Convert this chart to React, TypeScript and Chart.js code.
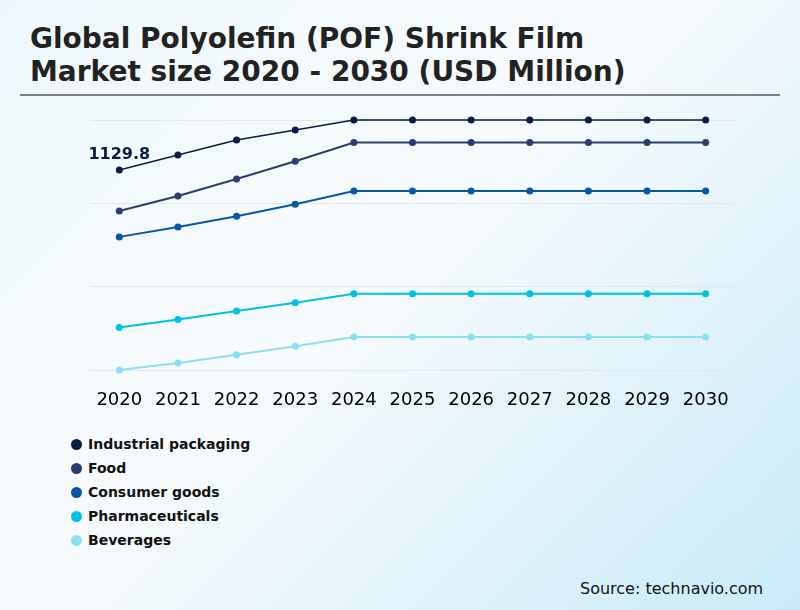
import React, { useEffect, useRef } from "react";
import { Chart, registerables } from "chart.js";

Chart.register(...registerables);

const years = ["2020", "2021", "2022", "2023", "2024", "2025", "2026", "2027", "2028", "2029", "2030"];
const seriesNames = ["Industrial packaging", "Food", "Consumer goods", "Pharmaceuticals", "Beverages"];
const seriesColors = ["#0b1d45", "#2b3d73", "#0757a6", "#00c2e0", "#8ae0f2"];
const industrialPackaging = [1129.8, 1166, 1202, 1226, 1250, 1250, 1250, 1250, 1250, 1250, 1250];
const food = [1031.6, 1067.6, 1108.4, 1151, 1196, 1196, 1196, 1196, 1196, 1196, 1196];
const consumerGoods = [969.5, 993, 1019, 1048, 1079.6, 1079.6, 1079.6, 1079.6, 1079.6, 1079.6, 1079.6];
const pharmaceuticals = [752, 771, 791.6, 811.5, 833, 833, 833, 833, 833, 833, 833];
const beverages = [650, 667, 686.5, 707, 729, 729, 729, 729, 729, 729, 729];
const seriesValues = [industrialPackaging, food, consumerGoods, pharmaceuticals, beverages];
const yMin = 650;
const yMax = 1250;
const yStep = 200;
const labelText = "1129.8";

const FONT = "'DejaVu Sans', sans-serif";

const labelPlugin = {
  id: "firstLabel",
  afterDatasetsDraw(chart: any) {
    const meta = chart.getDatasetMeta(0);
    const pt = meta.data[0];
    if (!pt) return;
    const ctx = chart.ctx;
    ctx.save();
    ctx.font = `bold 16px ${FONT}`;
    ctx.fillStyle = seriesColors[0];
    ctx.textAlign = "center";
    ctx.textBaseline = "middle";
    ctx.fillText(labelText, pt.x, pt.y - 15);
    ctx.restore();
  },
};

export default function App() {
  const ref = useRef<HTMLCanvasElement | null>(null);
  useEffect(() => {
    if (!ref.current) return;
    const chart = new Chart(ref.current, {
      type: "line",
      data: {
        labels: years,
        datasets: seriesNames.map((name, i) => ({
          label: name,
          data: seriesValues[i],
          borderColor: seriesColors[i],
          backgroundColor: seriesColors[i],
          borderWidth: i === 0 ? 1.5 : 2,
          pointRadius: 3.5,
          pointHoverRadius: 3.5,
          pointBorderWidth: 0,
          tension: 0,
          clip: false as any,
        })),
      },
      options: {
        animation: false,
        responsive: false,
        maintainAspectRatio: false,
        layout: { padding: { left: 90, right: 65, top: 120, bottom: 10 } },
        plugins: {
          legend: { display: false },
          tooltip: { enabled: false },
        },
        scales: {
          x: {
            offset: true,
            grid: { display: false },
            border: { display: false },
            ticks: {
              color: "#000",
              font: { family: FONT, size: 18 },
              padding: 12,
              maxRotation: 0,
              autoSkip: false,
            },
            afterFit(scale: any) {
              scale.height = 40;
            },
          },
          y: {
            min: yMin,
            max: yMax,
            ticks: { display: false, stepSize: yStep },
            grid: { color: "#e4e6e9", lineWidth: 1, drawTicks: false, tickLength: 0 },
            border: { display: false },
            afterFit(scale: any) {
              scale.width = 0;
            },
          },
        },
      },
      plugins: [labelPlugin],
    });
    return () => chart.destroy();
  }, []);

  return (
    <div
      style={{
        position: "absolute",
        left: 0,
        top: 0,
        width: 800,
        height: 610,
        overflow: "hidden",
        background: "linear-gradient(135deg, #eef8fc 0%, #f8fbfd 45%, #c8ebf8 100%)",
        fontFamily: FONT,
      }}
    >
      <div
        style={{
          position: "absolute",
          left: 30,
          top: 22,
          fontSize: 28,
          fontWeight: "bold",
          lineHeight: "33px",
          color: "#222",
          whiteSpace: "nowrap",
        }}
      >
        Global Polyolefin (POF) Shrink Film
        <br />
        Market size 2020 - 2030 (USD Million)
      </div>
      <div
        style={{
          position: "absolute",
          left: 20,
          top: 94,
          width: 760,
          height: 2,
          background: "#7f7f7f",
        }}
      />
      <canvas ref={ref} width={800} height={420} style={{ position: "absolute", left: 0, top: 0, width: 800, height: 420 }} />
      {seriesNames.map((name, i) => (
        <div
          key={name}
          style={{
            position: "absolute",
            left: 71,
            top: 444 + i * 24 - 10,
            height: 20,
            display: "flex",
            alignItems: "center",
            fontSize: 14,
            fontWeight: "bold",
            color: "#111",
            whiteSpace: "nowrap",
          }}
        >
          <span
            style={{
              display: "inline-block",
              width: 11,
              height: 11,
              borderRadius: "50%",
              background: seriesColors[i],
              marginRight: 6,
            }}
          />
          {name}
        </div>
      ))}
      <div
        style={{
          position: "absolute",
          left: 580,
          top: 579,
          fontSize: 16,
          lineHeight: "20px",
          color: "#111",
          whiteSpace: "nowrap",
        }}
      >
        Source: technavio.com
      </div>
    </div>
  );
}
